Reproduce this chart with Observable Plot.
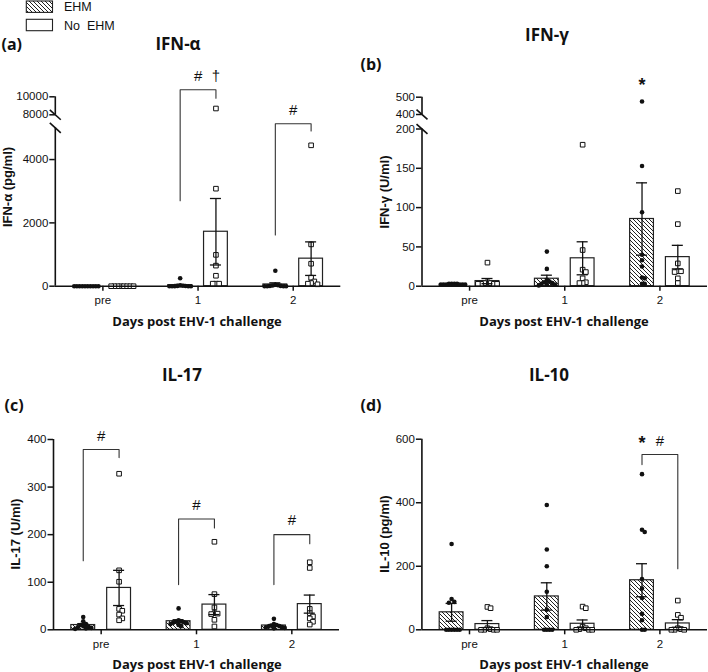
<!DOCTYPE html>
<html>
<head>
<meta charset="utf-8">
<script src="https://cdn.jsdelivr.net/npm/d3@7"></script>
<script src="https://cdn.jsdelivr.net/npm/@observablehq/plot@0.6"></script>
<style>
  body { margin: 0; background: #fff; }
  #fig { position: relative; width: 708px; height: 672px; overflow: hidden; color: #111; background: #fff; }
  .lbl { position: absolute; white-space: pre; transform: translate(-50%, -50%); line-height: 1; }
  .lft { position: absolute; white-space: pre; transform: translate(0, -50%); line-height: 1; }
  .ttl { font-family: "Open Sans", sans-serif; font-weight: 700; font-size: 17px; }
  .tag { font-family: "Open Sans", sans-serif; font-weight: 700; font-size: 16px; }
  .xt { font-family: "Open Sans", sans-serif; font-weight: 700; font-size: 13px; }
  .yt { font-family: "Liberation Sans", Arial, sans-serif; font-weight: 700; font-size: 13px; transform: translate(-50%, -50%) rotate(-90deg); }
  .leg { font-family: "Liberation Sans", Arial, sans-serif; font-size: 12.5px; }
  .plot { position: absolute; }
</style>
</head>
<body>
<div id="fig">
  <svg width="0" height="0" style="position:absolute">
    <defs>
      <pattern id="hatch" patternUnits="userSpaceOnUse" width="4" height="4">
        <rect width="4" height="4" fill="white"></rect>
        <path d="M-1,-1 L5,5 M-1,3 L1,5 M3,-1 L5,1" stroke="#222" stroke-width="1"></path>
      </pattern>
    </defs>
  </svg>
</div>
<script>
// ---------------- data ----------------
const days = ["pre", "1", "2"];
const groups = ["EHM", "No EHM"];

// (a) IFN-α (pg/ml)
const ifnAlphaEHM = [
  [0, 0, 0, 0, 0, 0, 0, 0, 0, 0],
  [250, 25, 15, 10, 5, 0, 0, 0, 0, 0],
  [490, 45, 30, 20, 10, 5, 0, 0, 0, 0]
];
const ifnAlphaNoEHM = [
  [0, 0, 0, 0, 0, 0, 0, 0],
  [8700, 3080, 990, 650, 330, 80, 80, 80],
  [4450, 1320, 710, 270, 150, 100, 80, 60]
];
const ifnAlphaMeanEHM = [0, 30, 55];
const ifnAlphaSemEHM = [0, 25, 52];
const ifnAlphaMeanNoEHM = [0, 1720, 870];
const ifnAlphaSemNoEHM = [0, 1050, 530];
const ifnAlphaTicks = [0, 2000, 4000, 8000, 10000];

// (b) IFN-γ (U/ml)
const ifnGammaEHM = [
  [3, 3, 3, 3, 2, 2, 2, 2, 2, 2],
  [44, 22, 8, 6, 5, 4, 3, 2, 2, 1],
  [475, 153, 94, 40, 33, 25, 11, 10, 3, 3]
];
const ifnGammaNoEHM = [
  [30, 5, 4, 4, 3, 3, 3, 3],
  [180, 46, 21, 18, 10, 5, 4, 4],
  [121, 79, 29, 19, 19, 18, 10, 4]
];
const ifnGammaMeanEHM = [2.4, 9.5, 85.5];
const ifnGammaSemEHM = [0.3, 4.5, 46];
const ifnGammaMeanNoEHM = [6.5, 35.5, 37];
const ifnGammaSemNoEHM = [3.3, 21, 15];
const ifnGammaTicks = [0, 50, 100, 150, 200, 400, 500];

// (c) IL-17 (U/ml)
const il17EHM = [
  [27, 18, 12, 10, 8, 6, 5, 4, 3, 2],
  [45, 20, 18, 17, 16, 15, 14, 12, 10, 8],
  [23, 12, 10, 9, 8, 7, 6, 5, 4, 3]
];
const il17NoEHM = [
  [328, 125, 101, 44, 40, 32, 24, 20],
  [185, 75, 47, 35, 34, 33, 21, 7],
  [142, 130, 44, 35, 28, 24, 17, 11]
];
const il17MeanEHM = [10, 18, 9];
const il17SemEHM = [3, 3.2, 2];
const il17MeanNoEHM = [88, 53, 54];
const il17SemNoEHM = [37, 21, 19];
const il17Ticks = [0, 100, 200, 300, 400];

// (d) IL-10 (pg/ml)
const il10EHM = [
  [270, 97, 88, 85, 0, 0, 0, 0, 0, 0],
  [393, 253, 200, 120, 63, 40, 0, 0, 0, 0],
  [490, 315, 308, 160, 130, 100, 50, 30, 0, 0]
];
const il10NoEHM = [
  [72, 68, 5, 2, 0, 0, 0, 0],
  [73, 68, 10, 5, 2, 0, 0, 0],
  [92, 47, 38, 5, 2, 0, 0, 0]
];
const il10MeanEHM = [55, 105, 156];
const il10SemEHM = [28, 43, 52];
const il10MeanNoEHM = [18, 19, 20];
const il10SemNoEHM = [11, 12, 12];
const il10Ticks = [0, 200, 400, 600];

// significance brackets (day index, left-leg bottom, top, right-leg bottom) and marks
const ifnAlphaBrackets = [
  {day: 1, left: 2700, top: 10780, right: 9840},
  {day: 2, left: 1620, top: 5940, right: 4900}
];
const ifnAlphaNotes = [
  {day: 1, at: "mid", y: 12250, t: "#"},
  {day: 1, at: "No EHM", y: 12250, t: "†"},
  {day: 2, at: "mid", y: 8555, t: "#"}
];
const ifnGammaBrackets = [];
const ifnGammaNotes = [{day: 2, at: "EHM", y: 596, t: "*"}];
const il17Brackets = [
  {day: 0, left: 145, top: 379, right: 362},
  {day: 1, left: 95, top: 233, right: 214},
  {day: 2, left: 95, top: 200, right: 181}
];
const il17Notes = [
  {day: 0, at: "mid", y: 408, t: "#"},
  {day: 1, at: "mid", y: 261, t: "#"},
  {day: 2, at: "mid", y: 230, t: "#"}
];
const il10Brackets = [{day: 2, left: 520, top: 552, right: 192}];
const il10Notes = [
  {day: 2, at: "EHM", y: 602, t: "*"},
  {day: 2, at: "mid", y: 593, t: "#"}
];

// ---------------- layout ----------------
const X_OFF = 0.188, BAR_HALF = 0.125, CAP_HALF = 0.058;
const TICKFONT = '"Liberation Sans", Arial, sans-serif';
const SIGFONT = '"Liberation Sans", Arial, sans-serif';

const slash = {
  draw(context, size) {
    const h = Math.sqrt(size / Math.PI);
    context.moveTo(-h, -h * 0.9);
    context.lineTo(h, h * 0.9);
  }
};

function swarm(values, ypx, step, minDy) {
  const order = values.map((v, i) => i).sort((a, b) => values[b] - values[a]);
  const placed = [], out = new Array(values.length);
  for (const i of order) {
    const y = ypx(values[i]);
    for (let k = 0; ; k++) {
      const o = (k === 0 ? 0 : (k % 2 ? Math.ceil(k / 2) : -k / 2)) * step;
      if (!placed.some(p => Math.abs(p.o - o) < step * 0.99 && Math.abs(p.y - y) < minDy)) {
        placed.push({o, y}); out[i] = o; break;
      }
    }
  }
  return out;
}

function panel(cfg) {
  const xDomain = [-0.5, 2.5];
  const {width, height, xRange, yDomain, yRange} = cfg;
  // broken axis: piecewise map of values to a continuous "axis length" coordinate
  const broken = yDomain.length > 2;
  const seg = d3.scaleLinear().domain(yDomain).range(yRange.map(r => yRange[0] - r));
  const f = broken ? (v => seg(v)) : (v => v);
  const plotDomain = broken ? [0, f(yDomain[yDomain.length - 1])] : yDomain;
  const plotRange = [yRange[0], yRange[yRange.length - 1]];
  const ypx = d3.scaleLinear().domain(yDomain).range(yRange);
  const pxPerUnit = (xRange[1] - xRange[0]) / (xDomain[1] - xDomain[0]);
  const specs = [
    {key: groups[0], vals: cfg.ehm, mean: cfg.meanE, sem: cfg.semE, off: -X_OFF, step: 2.7},
    {key: groups[1], vals: cfg.no, mean: cfg.meanN, sem: cfg.semN, off: X_OFF, step: 3.2}
  ];
  const points = [], bars = [];
  for (const g of specs) {
    g.vals.forEach((arr, di) => {
      const offs = swarm(arr, ypx, g.step, 4.2);
      arr.forEach((v, j) => points.push({group: g.key, x: di + g.off + offs[j] / pxPerUnit, y: v}));
      bars.push({group: g.key, x: di + g.off, mean: g.mean[di], sem: g.sem[di]});
    });
  }
  const errs = bars.filter(d => d.sem > 0);
  const bracketPts = [];
  cfg.brackets.forEach((b, i) => {
    bracketPts.push({id: i, x: b.day - X_OFF, y: b.left});
    bracketPts.push({id: i, x: b.day - X_OFF, y: b.top});
    bracketPts.push({id: i, x: b.day + X_OFF, y: b.top});
    bracketPts.push({id: i, x: b.day + X_OFF, y: b.right});
  });
  const noteX = d => d.day + (d.at === "mid" ? 0 : d.at === groups[0] ? -X_OFF : X_OFF);
  const stars = cfg.notes.filter(d => d.t === "*");
  const others = cfg.notes.filter(d => d.t !== "*");
  const tickPos = cfg.ticks.map(f);
  const tickLab = new Map(cfg.ticks.map(t => [f(t), String(t)]));
  return Plot.plot({
    width, height,
    marginLeft: xRange[0], marginRight: width - xRange[1],
    marginTop: 10, marginBottom: height - yRange[0],
    x: {domain: xDomain, range: xRange, axis: null},
    y: {domain: plotDomain, range: plotRange, axis: null},
    style: {fontFamily: TICKFONT, fontSize: "11.5px", color: "#111", background: "transparent", overflow: "visible"},
    marks: [
      Plot.rectY(bars.filter(d => d.group === groups[0]), {x1: d => d.x - BAR_HALF, x2: d => d.x + BAR_HALF, y1: d => f(0), y2: d => f(d.mean), fill: "url(#hatch)", stroke: "#222", strokeWidth: 1.2}),
      Plot.rectY(bars.filter(d => d.group === groups[1]), {x1: d => d.x - BAR_HALF, x2: d => d.x + BAR_HALF, y1: d => f(0), y2: d => f(d.mean), fill: "white", stroke: "#222", strokeWidth: 1.2}),
      Plot.dot(points.filter(d => d.group === groups[0]), {x: "x", y: d => f(d.y), r: 2.3, fill: "#111", stroke: "none"}),
      Plot.dot(points.filter(d => d.group === groups[1]), {x: "x", y: d => f(d.y), symbol: "square", r: 2.6, fill: "white", stroke: "#111", strokeWidth: 1}),
      Plot.ruleX(errs, {x: "x", y1: d => f(d.mean - d.sem), y2: d => f(d.mean + d.sem), stroke: "#111", strokeWidth: 1.3}),
      Plot.ruleY(errs, {y: d => f(d.mean + d.sem), x1: d => d.x - CAP_HALF, x2: d => d.x + CAP_HALF, stroke: "#111", strokeWidth: 1.3}),
      Plot.ruleY(errs, {y: d => f(d.mean - d.sem), x1: d => d.x - CAP_HALF, x2: d => d.x + CAP_HALF, stroke: "#111", strokeWidth: 1.3}),
      Plot.line(bracketPts, {x: "x", y: d => f(d.y), z: "id", stroke: "#333", strokeWidth: 1.1}),
      Plot.text(others, {x: noteX, y: d => f(d.y), text: "t", fontFamily: SIGFONT, fontSize: 15, fill: "#111"}),
      Plot.text(stars, {x: noteX, y: d => f(d.y), text: "t", fontFamily: SIGFONT, fontSize: 18, fontWeight: 700, dy: 5, fill: "#111"}),
      Plot.ruleX(cfg.axisSegs, {x: xDomain[0], y1: d => f(d[0]), y2: d => f(d[1]), stroke: "#111", strokeWidth: 1.6}),
      Plot.ruleY([f(0)], {x1: xDomain[0], x2: xDomain[1], stroke: "#111", strokeWidth: 1.6}),
      Plot.dot(cfg.breaks, {x: xDomain[0], y: d => f(d), symbol: slash, r: 5.5, fill: "none", stroke: "#111", strokeWidth: 1.6}),
      Plot.axisY({ticks: tickPos, tickFormat: d => tickLab.get(d), label: null, tickSize: 5.5, tickPadding: 1.5, strokeWidth: 1.5}),
      Plot.axisX({ticks: [0, 1, 2], tickFormat: i => days[i], label: null, tickSize: 5, tickPadding: 5, strokeWidth: 1.5})
    ]
  });
}

const panelDefs = [
  {left: 0, top: 0, width: 354, height: 336, xRange: [54.8, 340.3],
   yDomain: [0, 5000, 8000, 10000], yRange: [285.7, 127.4, 114.3, 96.3],
   axisSegs: [[0, 5000], [8000, 10000]], breaks: [5000, 8000], ticks: ifnAlphaTicks,
   ehm: ifnAlphaEHM, no: ifnAlphaNoEHM, meanE: ifnAlphaMeanEHM, semE: ifnAlphaSemEHM, meanN: ifnAlphaMeanNoEHM, semN: ifnAlphaSemNoEHM,
   brackets: ifnAlphaBrackets, notes: ifnAlphaNotes},
  {left: 354, top: 0, width: 354, height: 336, xRange: [67.5, 353],
   yDomain: [0, 200, 400, 500], yRange: [285.7, 128.5, 114, 96.7],
   axisSegs: [[0, 200], [400, 500]], breaks: [200, 400], ticks: ifnGammaTicks,
   ehm: ifnGammaEHM, no: ifnGammaNoEHM, meanE: ifnGammaMeanEHM, semE: ifnGammaSemEHM, meanN: ifnGammaMeanNoEHM, semN: ifnGammaSemNoEHM,
   brackets: ifnGammaBrackets, notes: ifnGammaNotes},
  {left: 0, top: 336, width: 354, height: 336, xRange: [53, 339],
   yDomain: [0, 400], yRange: [293.3, 103],
   axisSegs: [[0, 400]], breaks: [], ticks: il17Ticks,
   ehm: il17EHM, no: il17NoEHM, meanE: il17MeanEHM, semE: il17SemEHM, meanN: il17MeanNoEHM, semN: il17SemNoEHM,
   brackets: il17Brackets, notes: il17Notes},
  {left: 354, top: 336, width: 354, height: 336, xRange: [67.4, 353],
   yDomain: [0, 600], yRange: [293.3, 102.7],
   axisSegs: [[0, 600]], breaks: [], ticks: il10Ticks,
   ehm: il10EHM, no: il10NoEHM, meanE: il10MeanEHM, semE: il10SemEHM, meanN: il10MeanNoEHM, semN: il10SemNoEHM,
   brackets: il10Brackets, notes: il10Notes}
];

const fig = document.getElementById("fig");
for (const def of panelDefs) {
  const svg = panel(def);
  svg.classList.add("plot");
  svg.style.left = def.left + "px";
  svg.style.top = def.top + "px";
  fig.appendChild(svg);
}

// ---------------- text ----------------
const texts = [
  {cls: "lbl ttl", x: 178, y: 43, t: "IFN-α"},
  {cls: "lbl ttl", x: 547, y: 33.5, t: "IFN-γ"},
  {cls: "lbl ttl", x: 182, y: 373.5, t: "IL-17"},
  {cls: "lbl ttl", x: 549, y: 373.5, t: "IL-10"},
  {cls: "lft tag", x: 1.5, y: 43.5, t: "(a)"},
  {cls: "lft tag", x: 360.5, y: 63.5, t: "(b)"},
  {cls: "lft tag", x: 4.5, y: 405, t: "(c)"},
  {cls: "lft tag", x: 360.5, y: 405, t: "(d)"},
  {cls: "lbl yt", x: 6.5, y: 187, t: "IFN-α (pg/ml)"},
  {cls: "lbl yt", x: 383.5, y: 192, t: "IFN-γ (U/ml)"},
  {cls: "lbl yt", x: 15, y: 533.5, t: "IL-17 (U/ml)"},
  {cls: "lbl yt", x: 383.5, y: 533.5, t: "IL-10 (pg/ml)"},
  {cls: "lbl xt", x: 197, y: 320.5, t: "Days post EHV-1 challenge"},
  {cls: "lbl xt", x: 564, y: 320.5, t: "Days post EHV-1 challenge"},
  {cls: "lbl xt", x: 197, y: 663.5, t: "Days post EHV-1 challenge"},
  {cls: "lbl xt", x: 564, y: 663.5, t: "Days post EHV-1 challenge"},
  {cls: "lft leg", x: 64, y: 6.5, t: groups[0]},
  {cls: "lft leg", x: 64, y: 25.5, t: "No  EHM"}
];
for (const d of texts) {
  const el = document.createElement("div");
  el.className = d.cls;
  el.style.left = d.x + "px";
  el.style.top = d.y + "px";
  el.textContent = d.t;
  fig.appendChild(el);
}

// legend swatches
const ns = "http://www.w3.org/2000/svg";
const leg = document.createElementNS(ns, "svg");
leg.setAttribute("width", "60");
leg.setAttribute("height", "36");
leg.style.position = "absolute";
leg.style.left = "0px";
leg.style.top = "0px";
[{y: 1, fill: "url(#hatch)"}, {y: 19.3, fill: "white"}].forEach(s => {
  const r = document.createElementNS(ns, "rect");
  r.setAttribute("x", "26.3");
  r.setAttribute("y", String(s.y));
  r.setAttribute("width", "26.2");
  r.setAttribute("height", "11.4");
  r.setAttribute("fill", s.fill);
  r.setAttribute("stroke", "#222");
  r.setAttribute("stroke-width", "1.1");
  leg.appendChild(r);
});
fig.appendChild(leg);
</script>
</body>
</html>
